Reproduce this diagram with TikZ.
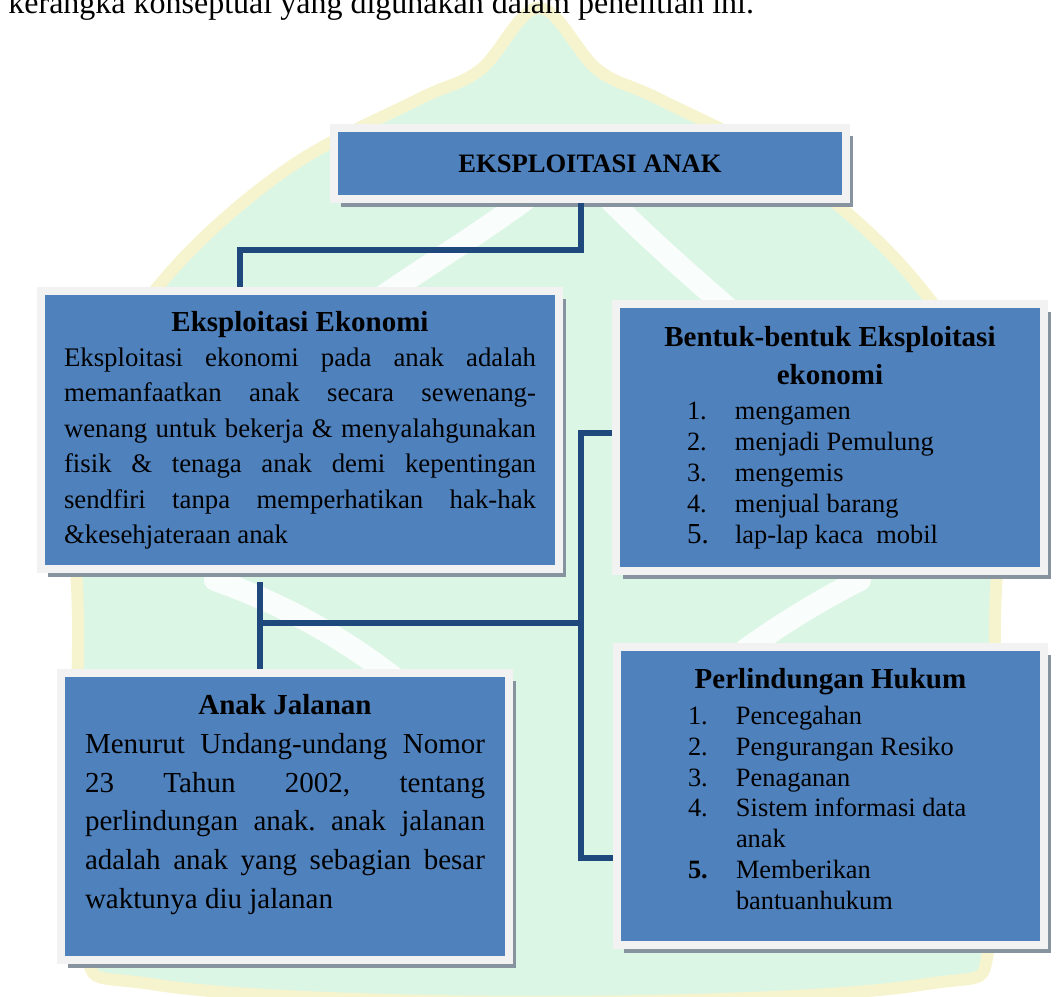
\documentclass[tikz,border=0pt]{standalone}
\usepackage{fontspec}
\setmainfont{Liberation Serif}
\usetikzlibrary{shadows}

\definecolor{boxblue}{HTML}{4F81BD}
\definecolor{boxrim}{HTML}{F2F2F2}
\definecolor{boxshade}{RGB}{135,148,160}
\definecolor{linkblue}{HTML}{1F497D}
\definecolor{wmmint}{RGB}{220,246,230}
\definecolor{wmgold}{RGB}{246,244,206}

% one numbered row of a list box
\newcommand{\listrow}[2]{\par\hangindent=59.5pt\hangafter=1\noindent\hspace*{35.5pt}\makebox[24pt][l]{#1}#2}

\begin{document}
\begin{tikzpicture}[
                x=0.5pt, y=-0.5pt,
                box/.style={draw=boxrim, line width=4pt, fill=boxblue, inner ysep=0pt,
                    drop shadow={shadow xshift=3.5pt, shadow yshift=-4pt, fill=boxshade, opacity=1}},
                link/.style={draw=linkblue, line width=3pt},
                streak/.style={draw=white, line width=11pt, line cap=round, opacity=0.85}
            ]
                \useasboundingbox (0,0) rectangle (1056,997);
                \hbadness=10000 \frenchspacing

                % watermark
                \filldraw[fill=wmmint, draw=wmgold, line width=6pt] plot[smooth cycle, tension=0.6] coordinates {
                    (539,8) (598,70) (661,100) (788,167) (903,267) (978,380) (1000,500) (995,620)
                    (992,930) (920,985) (539,1002) (158,985) (82,930) (78,620) (75,500) (98,380)
                    (175,267) (290,167) (417,100) (480,70)};
                \draw[streak] (525,200) .. controls (470,240) and (420,270) .. (370,305);
                \draw[streak] (610,200) .. controls (650,240) and (690,275) .. (730,310);
                \draw[streak] (215,580) .. controls (300,610) and (360,650) .. (410,690);
                \draw[streak] (860,580) .. controls (820,600) and (780,625) .. (745,650);

                \node[anchor=base west, inner sep=0pt, font=\fontsize{16}{19}\selectfont] (caption) at (8,13)
                    {kerangka konseptual yang digunakan dalam penelitian ini.};

                \node[box, minimum width=256pt, minimum height=35.5pt, font=\bfseries\fontsize{13.3}{16}\selectfont]
                    (eksploitasi) at (590,163.5) {EKSPLOITASI ANAK};

                \node[box, text width=236pt, inner xsep=11.5pt, minimum height=139pt, align=justify,
                    font=\fontsize{13.4}{17.7}\selectfont] (ekonomi) at (300,430) {%
                    {\centering\bfseries\fontsize{14.5}{17.7}\selectfont Eksploitasi Ekonomi\par}
                    Eksploitasi ekonomi pada anak adalah\linebreak
                    memanfaatkan anak secara sewenang-\linebreak
                    wenang untuk bekerja \& menyalahgunakan\linebreak
                    fisik \& tenaga anak demi kepentingan\linebreak
                    sendfiri tanpa memperhatikan hak-hak\linebreak
                    \&kesehjateraan anak};

                \node[box, text width=214pt, inner xsep=0pt, minimum height=133.5pt, align=justify,
                    font=\fontsize{13.2}{15.5}\selectfont] (bentuk) at (830,437.5) {%
                    {\centering\bfseries\fontsize{14.5}{19}\selectfont Bentuk-bentuk Eksploitasi\\ ekonomi\par}
                    \vspace{2pt}
                    \listrow{1.}{mengamen}
                    \listrow{2.}{menjadi Pemulung}
                    \listrow{3.}{mengemis}
                    \listrow{4.}{menjual barang}
                    \listrow{\fontsize{14.5}{15.5}\selectfont 5.}{lap-lap kaca\ \ mobil}\par};

                \node[box, text width=200pt, inner xsep=12pt, minimum height=143.5pt, align=justify,
                    font=\fontsize{14.5}{19.35}\selectfont] (jalanan) at (285,816.5) {%
                    {\centering\bfseries Anak Jalanan\par}
                    Menurut Undang-undang Nomor\linebreak
                    23 Tahun 2002, tentang\linebreak
                    perlindungan anak. anak jalanan\linebreak
                    adalah anak yang sebagian besar\linebreak
                    waktunya diu jalanan\par\kern12pt};

                \node[box, text width=213.5pt, inner xsep=0pt, minimum height=149pt, align=justify,
                    font=\fontsize{13.2}{15.35}\selectfont] (hukum) at (830.5,796) {%
                    {\centering\bfseries\fontsize{14.5}{17}\selectfont Perlindungan Hukum\par}
                    \vspace{2.65pt}
                    \listrow{1.}{Pencegahan}
                    \listrow{2.}{Pengurangan Resiko}
                    \listrow{3.}{Penaganan}
                    \listrow{4.}{Sistem informasi data\newline anak}
                    \listrow{\textbf{5.}}{Memberikan\newline bantuanhukum}\par\kern7pt};

                \coordinate (topbend) at (581,250);
                \coordinate (leftbend) at (240,250);
                \coordinate (split) at (260,623);
                \coordinate (spine) at (581,623);
                \coordinate (spinetop) at (581,433);
                \coordinate (spinebottom) at (581,858);

                \draw[link] (topbend |- eksploitasi.south) -- (topbend) -- (leftbend) -- (leftbend |- ekonomi.north);
                \draw[link, shorten <=4.5pt] (split |- ekonomi.south) -- (split |- jalanan.north);
                \draw[link] (split) -- (spine);
                \draw[link] (bentuk.west |- spinetop) -- (spinetop) -- (spinebottom) -- (hukum.west |- spinebottom);
            \end{tikzpicture}
\end{document}
